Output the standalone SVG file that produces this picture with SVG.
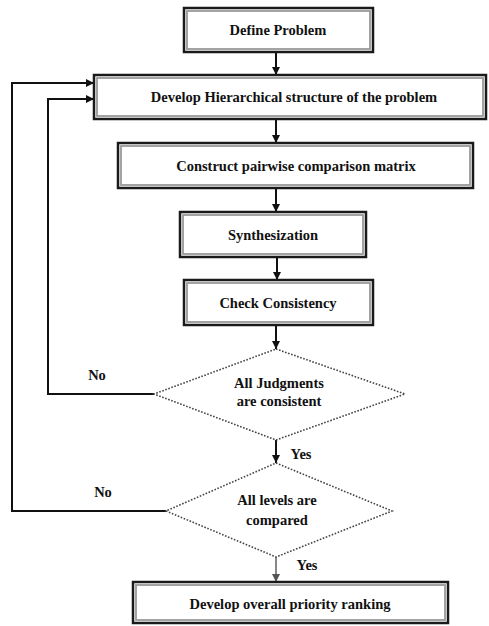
<svg xmlns="http://www.w3.org/2000/svg" width="489" height="626" viewBox="0 0 489 626">
<defs>
<marker id="ah" viewBox="0 0 10 10" refX="10" refY="5" markerWidth="8" markerHeight="8" markerUnits="userSpaceOnUse" orient="auto">
<path d="M0,0 L10,5 L0,10 z" fill="#111"/>
</marker>
<marker id="ahg" viewBox="0 0 10 10" refX="10" refY="5" markerWidth="8" markerHeight="8" markerUnits="userSpaceOnUse" orient="auto">
<path d="M0,0 L10,5 L0,10 z" fill="#555"/>
</marker>
</defs>
<style>
.outer{fill:#fff;stroke:#1a1a1a;stroke-width:2.5}
.inner{fill:none;stroke:#9a9a9a;stroke-width:1.8}
.dia{fill:#fff;stroke:#444;stroke-width:1.6;stroke-dasharray:1.6 1.6}
.t{font-family:"Liberation Serif","Times New Roman",serif;font-weight:bold;font-size:14.5px;fill:#111;text-anchor:middle}
.c{fill:none;stroke:#111;stroke-width:2}
</style>
<rect width="489" height="626" fill="#fff"/>
<g id="connectors">
<line class="c" x1="276" y1="52" x2="276" y2="75" marker-end="url(#ah)"/>
<line class="c" x1="276" y1="119" x2="276" y2="143" marker-end="url(#ah)"/>
<line class="c" x1="276" y1="188" x2="276" y2="212" marker-end="url(#ah)"/>
<line class="c" x1="277" y1="257" x2="277" y2="280" marker-end="url(#ah)"/>
<line class="c" x1="276" y1="325" x2="276" y2="349" marker-end="url(#ah)"/>
<line class="c" x1="276" y1="440" x2="276" y2="463" marker-end="url(#ah)"/>
<line x1="276" y1="557" x2="276" y2="582" stroke="#888" stroke-width="2" marker-end="url(#ahg)"/>
<polyline class="c" points="154,394 48,394 48,99 94,99" marker-end="url(#ah)"/>
<polyline class="c" points="166,511 12,511 12,83 94,83" marker-end="url(#ah)"/>
<text class="t" x="97" y="380">No</text>
<text class="t" x="103" y="497">No</text>
<text class="t" x="301" y="459">Yes</text>
<text class="t" x="307" y="570">Yes</text>
</g>
<g id="define">
<rect class="outer" x="184" y="8" width="189" height="44"/>
<rect class="inner" x="187" y="11" width="183" height="38"/>
<text class="t" x="278" y="35">Define Problem</text>
</g>
<g id="hierarchy">
<rect class="outer" x="94" y="75" width="392" height="44"/>
<rect class="inner" x="97" y="78" width="386" height="38"/>
<text class="t" x="294" y="102">Develop Hierarchical structure of the problem</text>
</g>
<g id="pairwise">
<rect class="outer" x="118" y="143" width="355" height="45"/>
<rect class="inner" x="121" y="146" width="349" height="39"/>
<text class="t" x="296" y="170.5">Construct pairwise comparison matrix</text>
</g>
<g id="synth">
<rect class="outer" x="180" y="212" width="186" height="45"/>
<rect class="inner" x="183" y="215" width="180" height="39"/>
<text class="t" x="273" y="239.5">Synthesization</text>
</g>
<g id="check">
<rect class="outer" x="184" y="280" width="189" height="45"/>
<rect class="inner" x="187" y="283" width="183" height="39"/>
<text class="t" x="278" y="307.5">Check Consistency</text>
</g>
<g id="judgments">
<polygon class="dia" points="276,349 405,394 276,440 154,394"/>
<text class="t" x="279" y="388">All Judgments</text>
<text class="t" x="279" y="406">are consistent</text>
</g>
<g id="levels">
<polygon class="dia" points="276,463 392,511 276,557 166,511"/>
<text class="t" x="277" y="505">All levels are</text>
<text class="t" x="277" y="525">compared</text>
</g>
<g id="ranking">
<rect class="outer" x="133" y="582" width="315" height="41"/>
<rect class="inner" x="136" y="585" width="309" height="35"/>
<text class="t" x="290" y="608.5">Develop overall priority ranking</text>
</g>
</svg>
